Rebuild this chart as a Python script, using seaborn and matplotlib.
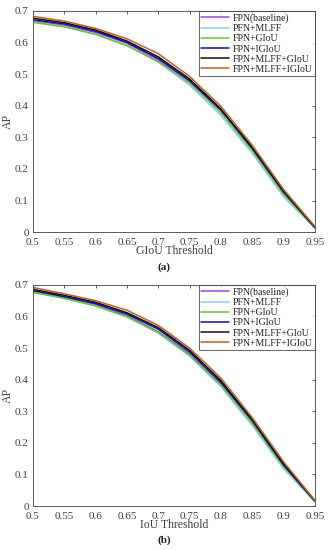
import pandas as pd
import matplotlib.pyplot as plt
import seaborn as sns

# threshold axis shared by both panels
thresholds = [0.5, 0.55, 0.6, 0.65, 0.7, 0.75, 0.8, 0.85, 0.9, 0.95]
methods = ['FPN(baseline)', 'PFN+MLFF', 'FPN+GIoU', 'FPN+IGIoU',
           'FPN+MLFF+GIoU', 'FPN+MLFF+IGIoU']
colors = ['#a040e8', '#88ccf0', '#6cc030', '#1010a0', '#101010', '#c06020']

# (a) AP vs GIoU threshold
giou_baseline = [0.668, 0.655, 0.632, 0.598, 0.545, 0.477, 0.385, 0.270, 0.132, 0.015]
giou_mlff = [0.666, 0.651, 0.627, 0.592, 0.538, 0.465, 0.370, 0.250, 0.112, 0.012]
giou_giou = [0.664, 0.650, 0.626, 0.590, 0.540, 0.472, 0.378, 0.258, 0.120, 0.014]
giou_igiou = [0.672, 0.659, 0.636, 0.601, 0.550, 0.480, 0.387, 0.265, 0.127, 0.015]
giou_mlff_giou = [0.677, 0.663, 0.640, 0.605, 0.555, 0.485, 0.390, 0.268, 0.130, 0.016]
giou_mlff_igiou = [0.683, 0.668, 0.645, 0.612, 0.565, 0.493, 0.398, 0.275, 0.135, 0.018]

# (b) AP vs IoU threshold
iou_baseline = [0.678, 0.660, 0.638, 0.603, 0.552, 0.482, 0.388, 0.272, 0.135, 0.016]
iou_mlff = [0.677, 0.657, 0.633, 0.598, 0.547, 0.475, 0.378, 0.255, 0.118, 0.013]
iou_giou = [0.676, 0.658, 0.634, 0.600, 0.550, 0.478, 0.383, 0.262, 0.125, 0.015]
iou_igiou = [0.682, 0.663, 0.641, 0.608, 0.560, 0.488, 0.392, 0.270, 0.130, 0.016]
iou_mlff_giou = [0.686, 0.667, 0.645, 0.612, 0.565, 0.493, 0.397, 0.274, 0.134, 0.017]
iou_mlff_igiou = [0.692, 0.672, 0.650, 0.620, 0.572, 0.500, 0.405, 0.280, 0.140, 0.018]

x_ticks = [0.5, 0.55, 0.6, 0.65, 0.7, 0.75, 0.8, 0.85, 0.9, 0.95]
x_labels = ['0.5', '0.55', '0.6', '0.65', '0.7', '0.75', '0.8', '0.85', '0.9', '0.95']
y_ticks = [0, 0.1, 0.2, 0.3, 0.4, 0.5, 0.6, 0.7]
y_labels = ['0', '0.1', '0.2', '0.3', '0.4', '0.5', '0.6', '0.7']


def long_frame(series):
    rows = []
    for name, vals in zip(methods, series):
        for t, v in zip(thresholds, vals):
            rows.append({'Threshold': t, 'AP': v, 'Method': name})
    return pd.DataFrame(rows)


df_a = long_frame([giou_baseline, giou_mlff, giou_giou, giou_igiou,
                   giou_mlff_giou, giou_mlff_igiou])
df_b = long_frame([iou_baseline, iou_mlff, iou_giou, iou_igiou,
                   iou_mlff_giou, iou_mlff_igiou])

sns.set_theme(style="white")
plt.rcParams['font.family'] = ['Liberation Serif', 'DejaVu Serif']
grey = '#404040'

fig = plt.figure(figsize=(3.29, 5.5), dpi=100)
ax_a = fig.add_axes([0.100, 0.578, 0.857, 0.402])
ax_b = fig.add_axes([0.100, 0.080, 0.857, 0.402])

panels = [(ax_a, df_a, 'GIoU Threshold', '(a)', 0.514),
          (ax_b, df_b, 'IoU Threshold', '(b)', 0.018)]

for ax, df, xlab, tag, tag_y in panels:
    sns.lineplot(data=df, x='Threshold', y='AP', hue='Method',
                 palette=colors, linewidth=1.1, ax=ax)
    ax.set_xlim(0.5, 0.95)
    ax.set_ylim(0, 0.7)
    ax.set_xticks(x_ticks)
    ax.set_xticklabels(x_labels)
    ax.set_yticks(y_ticks)
    ax.set_yticklabels(y_labels)
    ax.tick_params(direction='in', length=2.5, width=0.6, labelsize=8,
                   colors=grey, top=True, right=True)
    ax.tick_params(axis='x', pad=4)
    ax.tick_params(axis='y', pad=3)
    for s in ax.spines.values():
        s.set_color(grey)
        s.set_linewidth(0.6)
    ax.set_xlabel(xlab, fontsize=8.5, color=grey, labelpad=-1)
    ax.set_ylabel('AP', fontsize=8.5, color=grey, labelpad=1)
    leg = ax.legend(loc='upper right', fontsize=7, frameon=True, fancybox=False,
                    borderaxespad=0, handlelength=2.8, handletextpad=0.4,
                    labelspacing=0.12, borderpad=0.25)
    leg.get_frame().set_edgecolor('#202020')
    leg.get_frame().set_linewidth(0.6)
    for txt in leg.get_texts():
        txt.set_color('#202020')
    fig.text(0.5, tag_y, tag, ha='center', va='center', fontsize=8,
             fontweight='bold', color='#202020')

fig.savefig('out.png', dpi=100)
